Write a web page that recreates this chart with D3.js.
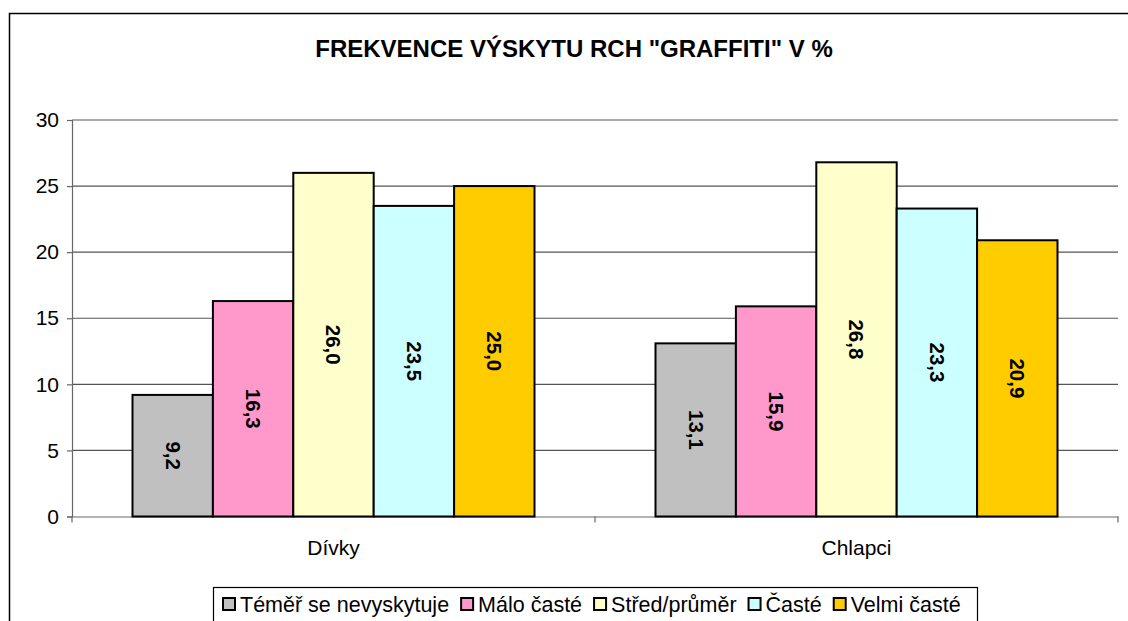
<!DOCTYPE html>
<html>
<head>
<meta charset="utf-8">
<script src="https://cdn.jsdelivr.net/npm/d3@7"></script>
<style>
  body { margin: 0; background: #fff; }
  text { font-family: "Liberation Sans", Arial, sans-serif; }
</style>
</head>
<body>
<div id="graf"></div>
<script>
// data
const kategorie = ["Dívky", "Chlapci"];
const serie = ["Téměř se nevyskytuje", "Málo časté", "Střed/průměr", "Časté", "Velmi časté"];
const hodnotyDivky = [9.2, 16.3, 26.0, 23.5, 25.0];
const hodnotyChlapci = [13.1, 15.9, 26.8, 23.3, 20.9];
const barvy = ["#C0C0C0", "#FF99CC", "#FFFFCC", "#CCFFFF", "#FFCC00"];
const yTicks = [0, 5, 10, 15, 20, 25, 30];

const hodnoty = [hodnotyDivky, hodnotyChlapci];

function drawBarChart() {
    const dim = {
        sirina: 1128,
        visina: 621,
        left: 72,
        right: 1118,
        top: 120,
        bottom: 516.5
    };

    const svg = d3.select("#graf")
        .append("svg")
        .attr("width", dim.sirina)
        .attr("height", dim.visina);

    // outer border (continues past the window)
    svg.append("rect")
        .attr("x", 9.5)
        .attr("y", 13.5)
        .attr("width", 1300)
        .attr("height", 800)
        .attr("fill", "none")
        .attr("stroke", "#000")
        .attr("stroke-width", 1.5);

    // title
    svg.append("text")
        .attr("x", 574)
        .attr("y", 57)
        .attr("text-anchor", "middle")
        .attr("font-size", 24)
        .attr("font-weight", "bold")
        .text('FREKVENCE VÝSKYTU RCH "GRAFFITI" V %');

    // scales
    const x0 = d3.scaleBand()
        .domain(kategorie)
        .range([dim.left, dim.right])
        .paddingInner(0)
        .paddingOuter(0);

    const x1 = d3.scaleBand()
        .domain(serie)
        .range([60.5, x0.bandwidth() - 60.5]);

    const y = d3.scaleLinear()
        .domain([0, 30])
        .range([dim.bottom, dim.top]);

    // gridlines
    svg.append("g")
        .selectAll("line")
        .data(yTicks.filter(d => d > 0))
        .enter().append("line")
            .attr("x1", dim.left)
            .attr("x2", dim.right)
            .attr("y1", d => y(d))
            .attr("y2", d => y(d))
            .attr("stroke", "#555")
            .attr("stroke-width", 1.2);

    // y axis
    const yAxis = svg.append("g")
        .attr("transform", `translate(${dim.left},0)`)
        .call(d3.axisLeft(y).tickValues(yTicks).tickSize(5).tickPadding(8));
    yAxis.select(".domain").attr("stroke", "#666").attr("stroke-width", 1.2);
    yAxis.selectAll(".tick line").attr("stroke", "#666").attr("stroke-width", 1.2);
    yAxis.selectAll(".tick text")
        .attr("font-size", 21)
        .attr("font-family", "Liberation Sans, Arial, sans-serif")
        .attr("fill", "#000");

    // x axis
    const xAxis = svg.append("g")
        .attr("transform", `translate(0,${dim.bottom})`)
        .call(d3.axisBottom(x0).tickSize(0).tickPadding(24));
    xAxis.select(".domain").attr("stroke", "#666").attr("stroke-width", 1.2);
    xAxis.selectAll(".tick text")
        .attr("font-size", 21)
        .attr("font-family", "Liberation Sans, Arial, sans-serif")
        .attr("fill", "#000");

    // category separators on x axis
    svg.append("g")
        .selectAll("line")
        .data([dim.left, x0("Chlapci"), dim.right])
        .enter().append("line")
            .attr("x1", d => d)
            .attr("x2", d => d)
            .attr("y1", dim.bottom)
            .attr("y2", dim.bottom + 6)
            .attr("stroke", "#666")
            .attr("stroke-width", 1.2);

    // bars
    const skupiny = svg.append("g")
        .selectAll("g")
        .data(kategorie)
        .enter().append("g")
            .attr("transform", d => `translate(${x0(d)},0)`);

    const sloupce = skupiny.selectAll("g")
        .data((k, i) => serie.map((s, j) => ({ serie: s, hodnota: hodnoty[i][j], barva: barvy[j] })))
        .enter().append("g");

    sloupce.append("rect")
        .attr("x", d => x1(d.serie))
        .attr("y", d => y(d.hodnota))
        .attr("width", x1.bandwidth())
        .attr("height", d => y(0) - y(d.hodnota))
        .attr("fill", d => d.barva)
        .attr("stroke", "#000")
        .attr("stroke-width", 2);

    sloupce.append("text")
        .attr("transform", d => {
            const cx = x1(d.serie) + x1.bandwidth() / 2;
            const cy = (y(d.hodnota) + y(0)) / 2;
            return `translate(${cx},${cy}) rotate(90)`;
        })
        .attr("text-anchor", "middle")
        .attr("dy", "0.35em")
        .attr("font-size", 20.5)
        .attr("font-weight", "bold")
        .text(d => d3.format(".1f")(d.hodnota).replace(".", ","));

    // legend
    const legenda = svg.append("g");
    legenda.append("rect")
        .attr("x", 213.5)
        .attr("y", 587.5)
        .attr("width", 764)
        .attr("height", 42)
        .attr("fill", "#fff")
        .attr("stroke", "#000")
        .attr("stroke-width", 1.2);

    let lx = 223;
    serie.forEach((s, i) => {
        legenda.append("rect")
            .attr("x", lx)
            .attr("y", 598)
            .attr("width", 12)
            .attr("height", 12)
            .attr("fill", barvy[i])
            .attr("stroke", "#000")
            .attr("stroke-width", 2);
        const t = legenda.append("text")
            .attr("x", lx + 17)
            .attr("y", 612)
            .attr("font-size", 21.5)
            .text(s);
        lx += 17 + t.node().getComputedTextLength() + 12;
    });
}

drawBarChart();
</script>
</body>
</html>
